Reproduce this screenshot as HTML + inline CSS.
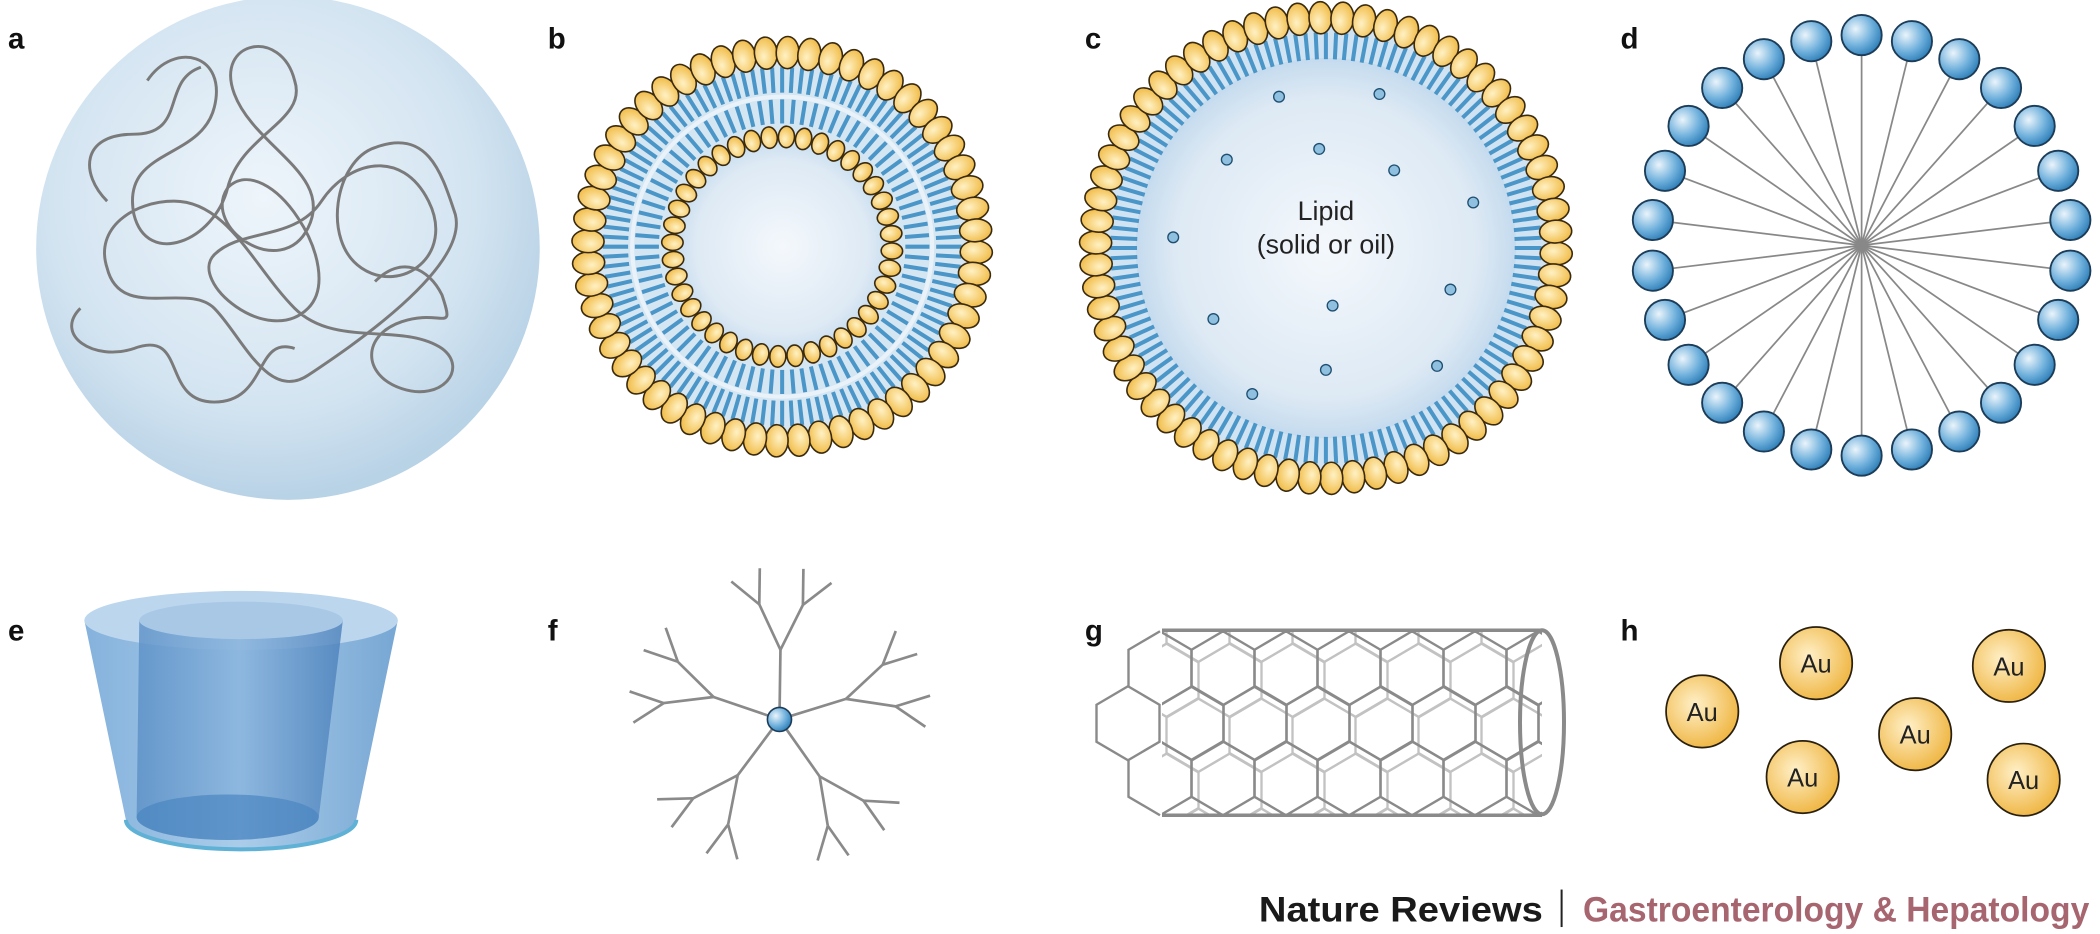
<!DOCTYPE html>
<html><head><meta charset="utf-8">
<style>
html,body{margin:0;padding:0;background:#fff;width:2100px;height:934px;overflow:hidden}
svg{display:block}
</style></head>
<body>
<svg id="s" width="2100" height="934" viewBox="0 0 1568 697" xmlns="http://www.w3.org/2000/svg">
<defs>
<radialGradient id="ga" cx="0.45" cy="0.4" r="0.6"><stop offset="0" stop-color="#eef5fb"/><stop offset="0.7" stop-color="#d3e4f1"/><stop offset="1" stop-color="#b8d2e6"/></radialGradient>
<radialGradient id="gin" cx="0.5" cy="0.5" r="0.5"><stop offset="0" stop-color="#f4f8fc"/><stop offset="0.8" stop-color="#dde9f4"/><stop offset="1" stop-color="#c4dbee"/></radialGradient>
<radialGradient id="head" cx="0.4" cy="0.4" r="0.6"><stop offset="0" stop-color="#fff1c4"/><stop offset="1" stop-color="#f2bf4f"/></radialGradient>
<radialGradient id="sph" cx="0.35" cy="0.35" r="0.7"><stop offset="0" stop-color="#eaf4fb"/><stop offset="0.6" stop-color="#6fb0dc"/><stop offset="1" stop-color="#2f7fb8"/></radialGradient>
<radialGradient id="au" cx="0.4" cy="0.4" r="0.6"><stop offset="0" stop-color="#fff0c8"/><stop offset="1" stop-color="#f0b94a"/></radialGradient>
<linearGradient id="cupo" x1="0" x2="1"><stop offset="0" stop-color="#6fa4d6"/><stop offset="0.5" stop-color="#9cc4e6"/><stop offset="1" stop-color="#5f97cc"/></linearGradient>
<linearGradient id="cupi" x1="0" x2="1"><stop offset="0" stop-color="#5a8fc6"/><stop offset="0.5" stop-color="#86b2dc"/><stop offset="1" stop-color="#4b80bb"/></linearGradient>
<clipPath id="tubeclip"><rect x="1162" y="630" width="380" height="185"/></clipPath>
</defs>
<g font-family="Liberation Sans, sans-serif" font-weight="bold" font-size="22" fill="#111">
<text x="6" y="36">a</text><text x="409" y="36">b</text><text x="810" y="36">c</text><text x="1210" y="36">d</text>
<text x="6" y="478">e</text><text x="409" y="478">f</text><text x="810" y="478">g</text><text x="1210" y="478">h</text>
</g>
<!-- a -->
<circle cx="215" cy="185" r="188" fill="url(#ga)"/>
<path fill="none" stroke="#7a7a7a" stroke-width="2.2" d="M110 60 C130 30 170 40 160 80 C150 120 90 110 100 160 C110 200 160 180 170 140 C180 100 230 90 220 60 C210 20 160 30 175 70 C190 110 250 130 230 170 C210 210 150 170 170 140 C200 110 260 200 230 230 C200 260 140 210 160 190 C180 170 220 180 240 150 C260 120 300 110 320 150 C340 190 300 220 270 200 C240 180 250 120 280 110 C320 95 330 130 340 160 C350 200 260 260 230 280 C200 300 180 250 160 230 C140 210 90 240 80 200 C70 170 100 150 130 150 C170 150 190 200 220 230 C250 260 300 240 330 260 C350 275 330 300 300 290 C270 280 270 250 300 240 C330 230 340 250 330 220 C320 200 300 190 280 210 M60 230 C40 250 70 270 100 260 C140 245 120 300 160 300 C200 300 190 250 220 260 M80 150 C60 130 60 100 100 100 C140 100 120 60 150 50"/>
<g id="b"></g><g id="c"></g><g id="d"></g>
<!-- e cup -->
<path d="M63 463 L94 612 A86 22 0 0 0 266 612 L297 463 Z" fill="url(#cupo)" opacity="0.85"/>
<ellipse cx="180" cy="463" rx="117" ry="22" fill="#bcd6ee"/>
<path d="M104 463 L102 610 A68 17 0 0 0 238 610 L256 463 Z" fill="url(#cupi)" opacity="0.8"/>
<ellipse cx="180" cy="463" rx="76" ry="14" fill="#a9c8e6"/>
<ellipse cx="170" cy="610" rx="68" ry="17" fill="#4a86c0" opacity="0.7"/>
<path d="M94 612 A86 22 0 0 0 266 612" fill="none" stroke="#5fb1d6" stroke-width="3"/>
<g id="f"></g><g id="g"></g><g id="h"></g>
<text y="688" font-family="Liberation Sans, sans-serif" font-size="26" font-weight="bold"><tspan x="940" fill="#1a1a1a" textLength="212" lengthAdjust="spacingAndGlyphs">Nature Reviews</tspan></text>
<line x1="1166" y1="664" x2="1166" y2="692" stroke="#222" stroke-width="1.5"/>
<text x="1182" y="688" font-family="Liberation Sans, sans-serif" font-size="26" font-weight="bold" fill="#a6656f" textLength="378" lengthAdjust="spacingAndGlyphs">Gastroenterology &amp; Hepatology</text>
</svg>
<script>
function el(par,tag,a){var e=document.createElementNS("http://www.w3.org/2000/svg",tag);for(var k in a)e.setAttribute(k,a[k]);par.appendChild(e);return e;}
function ring(g,cx,cy,rHead,n,rx,ry,tOut,tIn){
  for(var i=0;i<n*2;i++){var a=i/(n*2)*Math.PI*2;var c=Math.cos(a),s=Math.sin(a);
    el(g,'line',{x1:cx+c*tOut,y1:cy+s*tOut,x2:cx+c*tIn,y2:cy+s*tIn,stroke:'#4a96c8','stroke-width':3});}
  for(var i=0;i<n;i++){var a=(i+0.25)/n*Math.PI*2;var x=cx+Math.cos(a)*rHead,y=cy+Math.sin(a)*rHead;
    el(g,'ellipse',{cx:x,cy:y,rx:rx,ry:ry,transform:'rotate('+(a*180/Math.PI)+' '+x+' '+y+')',fill:'url(#head)',stroke:'#3a2a10','stroke-width':1.2});}
}
var b=document.getElementById('b');
el(b,'circle',{cx:584,cy:184,r:146,fill:'#d5e6f3'});
el(b,'circle',{cx:584,cy:184,r:112,fill:'none',stroke:'#eaf2f9','stroke-width':3});
el(b,'circle',{cx:584,cy:184,r:82,fill:'url(#gin)'});
ring(b,584,184,145,56,12,8.5,134,115);
ring(b,584,184,82,40,8,6,110,92);
var c=document.getElementById('c');
el(c,'circle',{cx:990,cy:185,r:176,fill:'#cfe3f2'});
el(c,'circle',{cx:990,cy:185,r:142,fill:'url(#gin)'});
ring(c,990,185,172,66,12,8.5,161,141);
[[955,72],[1030,70],[916,119],[985,111],[1041,127],[1100,151],[876,177],[1083,216],[906,238],[995,228],[990,276],[1073,273],[935,294]].forEach(function(p){el(c,'circle',{cx:p[0],cy:p[1],r:4,fill:'#8fc0e0',stroke:'#1f4f70','stroke-width':1});});
var t=el(c,'text',{x:990,y:164,'text-anchor':'middle','font-family':'Liberation Sans, sans-serif','font-size':20,fill:'#222'});t.textContent='Lipid';
t=el(c,'text',{x:990,y:189,'text-anchor':'middle','font-family':'Liberation Sans, sans-serif','font-size':20,fill:'#222'});t.textContent='(solid or oil)';
var d=document.getElementById('d');var N=26;
for(var i=0;i<N;i++){var a=(i+0.5)/N*Math.PI*2;el(d,'line',{x1:1390,y1:183,x2:1390+Math.cos(a)*150,y2:183+Math.sin(a)*150,stroke:'#888','stroke-width':1.3});}
for(var i=0;i<N;i++){var a=(i+0.5)/N*Math.PI*2;el(d,'circle',{cx:1390+Math.cos(a)*157,cy:183+Math.sin(a)*157,r:15,fill:'url(#sph)',stroke:'#1c3c58','stroke-width':1.4});}
var f=document.getElementById('f');
function br(x,y,a,len,gen){var x2=x+Math.cos(a)*len,y2=y+Math.sin(a)*len;el(f,'line',{x1:x,y1:y,x2:x2,y2:y2,stroke:'#8a8a8a','stroke-width':2});
 if(gen>0){br(x2,y2,a-0.45,len*0.72,gen-1);br(x2,y2,a+0.45,len*0.72,gen-1);}}
for(var i=0;i<5;i++){br(582,537,i/5*Math.PI*2-0.3,52,2);}
el(f,'circle',{cx:582,cy:537,r:9,fill:'url(#sph)',stroke:'#1c3c58','stroke-width':1.2});
var g=el(document.getElementById('g'),'g',{transform:'scale('+(1568/2100)+')'});
function hex(par,cx,cy,col,w){var s=37,hw=31.5,p=[[cx,cy-s],[cx+hw,cy-s/2],[cx+hw,cy+s/2],[cx,cy+s],[cx-hw,cy+s/2],[cx-hw,cy-s/2]];
 el(par,'polygon',{points:p.map(function(q){return q.join(',')}).join(' '),fill:'none',stroke:col,'stroke-width':w});}
var back=el(g,'g',{'clip-path':'url(#tubeclip)'});
[[650,1192],[705,1160],[760,1192],[815,1160],[595,1160]].forEach(function(r){for(var x=r[1]-63;x<1620;x+=63)hex(back,x+38,r[0]+30,'#c2c2c2',2.2);});
var fr=el(g,'g',{});
var frc=el(fr,'g',{'clip-path':'url(#tubeclip)'});
for(var x=1160;x<1600;x+=63){hex(frc,x,668,'#8a8a8a',2.4);hex(frc,x,778,'#8a8a8a',2.4);}
for(var x=1192;x<1600;x+=63){hex(frc,x,723,'#8a8a8a',2.4);}
hex(fr,1128,723,'#8a8a8a',2.4);
el(fr,'polyline',{points:'1160,631 1128.5,649.5 1128.5,686',fill:'none',stroke:'#8a8a8a','stroke-width':2.4});
el(fr,'polyline',{points:'1128.5,760 1128.5,796.5 1160,815',fill:'none',stroke:'#8a8a8a','stroke-width':2.4});
el(g,'line',{x1:1162,y1:630,x2:1542,y2:630,stroke:'#8a8a8a','stroke-width':3.5});
el(g,'line',{x1:1162,y1:815,x2:1542,y2:815,stroke:'#8a8a8a','stroke-width':3.5});
el(g,'ellipse',{cx:1542,cy:722,rx:22,ry:92,fill:'none',stroke:'#8a8a8a','stroke-width':4});
var h=document.getElementById('h');
[[1271,531],[1356,495],[1430,548],[1500,497],[1346,580],[1511,582]].forEach(function(p){
 el(h,'circle',{cx:p[0],cy:p[1],r:27,fill:'url(#au)',stroke:'#2a2010','stroke-width':1.3});
 var t=el(h,'text',{x:p[0],y:p[1]+7,'text-anchor':'middle','font-family':'Liberation Sans, sans-serif','font-size':19,fill:'#222'});t.textContent='Au';});
</script>
</body></html>
